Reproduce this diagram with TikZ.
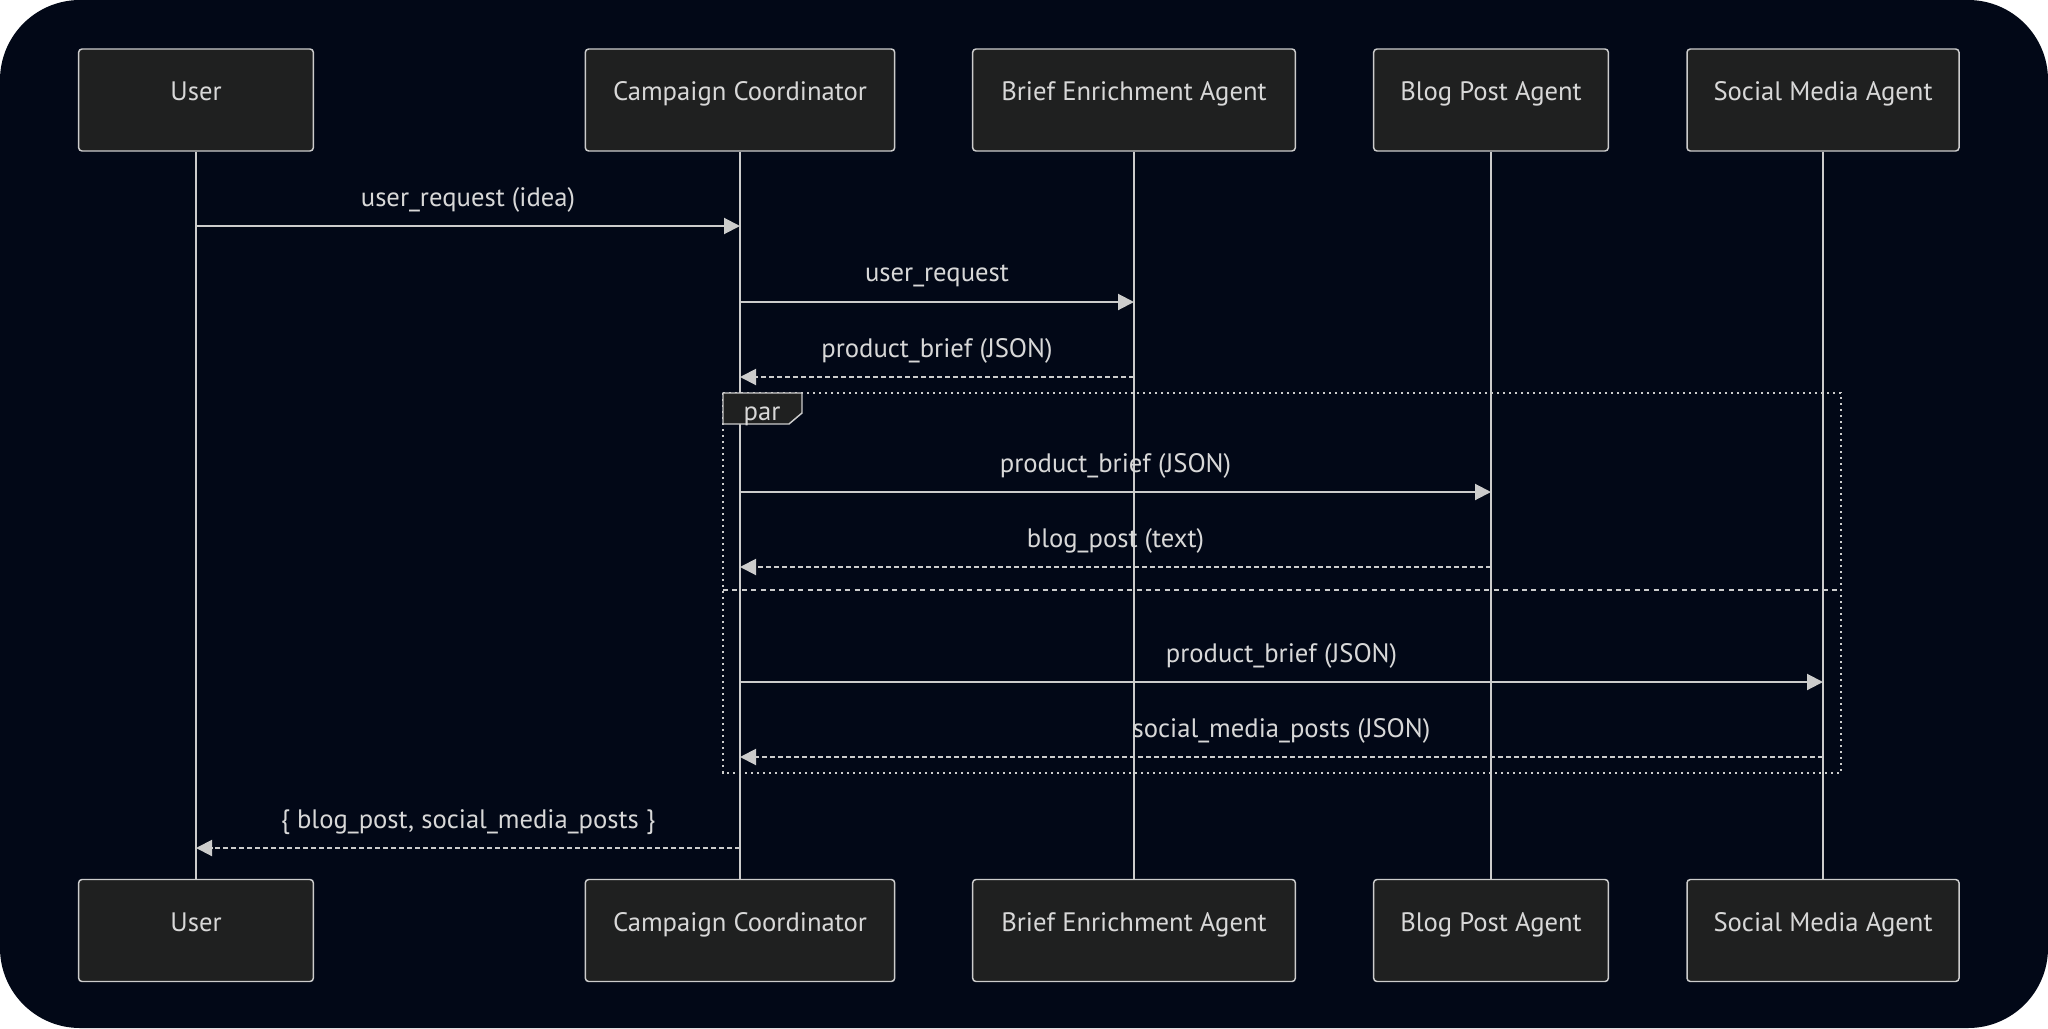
\documentclass[tikz,border=0pt]{standalone}
\usepackage{fontspec}
\setmainfont{PT Sans}
\usetikzlibrary{arrows.meta}
\definecolor{bgnavy}{HTML}{020817}
\definecolor{boxfill}{HTML}{1F2020}
\definecolor{linegray}{HTML}{CCCCCC}
\definecolor{textgray}{HTML}{D8D8D8}
\newcommand{\seqfont}{\fontsize{20}{23}\selectfont}

\begin{document}
\begin{tikzpicture}[x=0.75pt,y=-0.75pt,
	actor/.style={draw=linegray, line width=1.1pt, fill=boxfill, rounded corners=2.5pt,
		minimum height=76.5pt, inner sep=0pt, text=textgray, font=\seqfont,
		text height=14.5pt, text depth=13.5pt},
	life/.style={draw=linegray, line width=1.6pt},
	msg/.style={draw=linegray, line width=1.5pt, -{Triangle[length=12pt,width=12pt]}},
	reply/.style={msg, dash pattern=on 3.75pt off 2.25pt},
	msglabel/.style={text=textgray, font=\seqfont, yshift=19.5pt},
	pardot/.style={draw=linegray, line width=1.7pt, dash pattern=on 1.7pt off 2.8pt},
	pardash/.style={draw=linegray, line width=1.7pt, dash pattern=on 3.75pt off 3.3pt}]

% background
\fill[white] (0,0) rectangle (2048,1028);
\fill[bgnavy, rounded corners=60pt] (0,0) rectangle (2048,1028);

% actors, top and bottom, with lifelines
\foreach \n/\x/\w/\t in {u/196/176/User, c/740/232/Campaign Coordinator,
		b/1134/242/Brief Enrichment Agent, p/1491/176/Blog Post Agent,
		s/1823/204/Social Media Agent}{
	\node[actor, minimum width=\w pt] (\n Top) at (\x,100) {\t};
	\node[actor, minimum width=\w pt] (\n Bot) at (\x,930.5) {\t};
	\draw[life] (\n Top.south) -- (\n Bot.north);
}

% message rows
\coordinate (r1) at (0,226);
\coordinate (r2) at (0,302);
\coordinate (r3) at (0,377);
\coordinate (r4) at (0,492);
\coordinate (r5) at (0,567);
\coordinate (r6) at (0,682);
\coordinate (r7) at (0,757);
\coordinate (r8) at (0,848);

% par block
\draw[pardot] (723,393) rectangle (1841,773);
\draw[pardash] (723,590) -- (1841,590);
\draw[draw=linegray, line width=1.1pt, fill=boxfill]
	(723,393) -- (802,393) -- (802,413) -- (789,424) -- (723,424) -- cycle;
\node[text=textgray, font=\seqfont] (parLabel) at (762,416) {par};

% messages
\draw[msg] (uTop |- r1) -- node[msglabel] {user\_request (idea)} (cTop |- r1);
\draw[msg] (cTop |- r2) -- node[msglabel] {user\_request} (bTop |- r2);
\draw[reply] (bTop |- r3) -- node[msglabel] {product\_brief (JSON)} (cTop |- r3);
\draw[msg] (cTop |- r4) -- node[msglabel] {product\_brief (JSON)} (pTop |- r4);
\draw[reply] (pTop |- r5) -- node[msglabel] {blog\_post (text)} (cTop |- r5);
\draw[msg] (cTop |- r6) -- node[msglabel] {product\_brief (JSON)} (sTop |- r6);
\draw[reply] (sTop |- r7) -- node[msglabel] {social\_media\_posts (JSON)} (cTop |- r7);
\draw[reply] (cTop |- r8) -- node[msglabel] {\{ blog\_post, social\_media\_posts \}} (uTop |- r8);
\end{tikzpicture}
\end{document}
